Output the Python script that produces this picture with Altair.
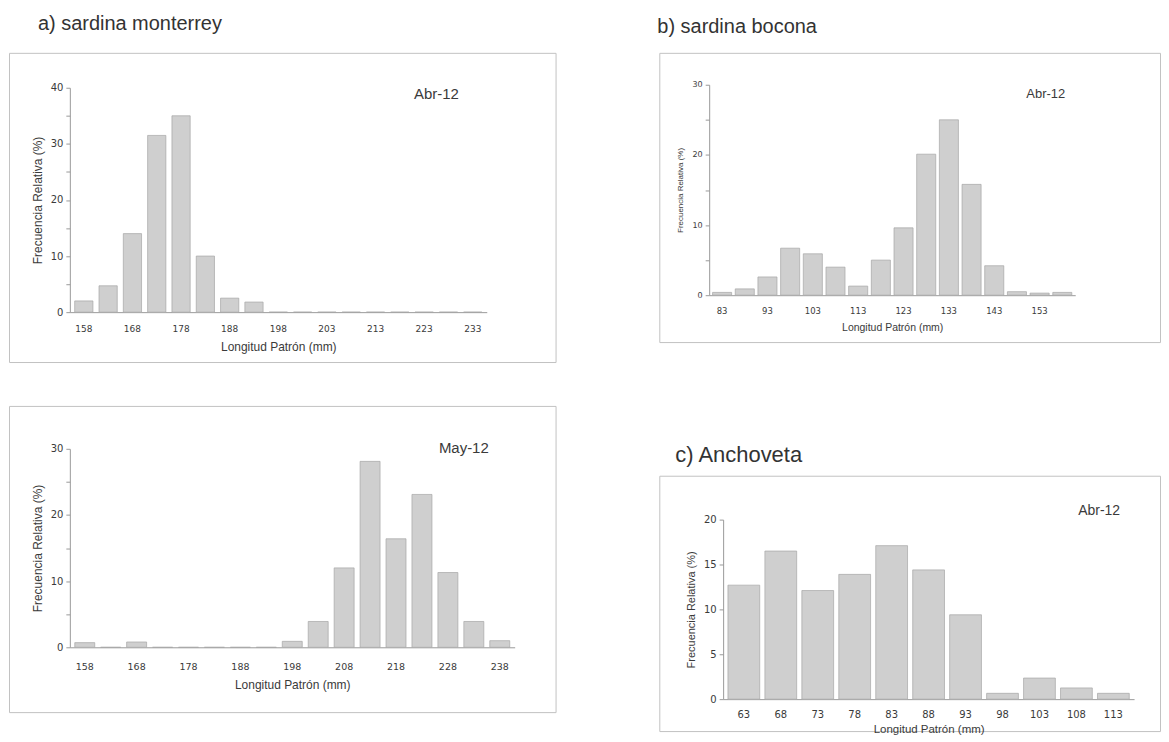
import altair as alt
import pandas as pd

# ---------------- data ----------------
a1_cats = ["158", "163", "168", "173", "178", "183", "188", "193", "198", "200",
           "203", "208", "213", "218", "223", "228", "233"]
a1_vals = [2.0, 4.7, 14.0, 31.5, 35.0, 10.0, 2.5, 1.8, 0, 0, 0, 0, 0, 0, 0, 0, 0]
a1_labels = ["158", "168", "178", "188", "198", "203", "213", "223", "233"]

a2_cats = ["158", "163", "168", "173", "178", "183", "188", "193", "198", "203",
           "208", "213", "218", "223", "228", "233", "238"]
a2_vals = [0.7, 0, 0.8, 0, 0, 0, 0, 0, 0.9, 3.9, 12.0, 28.1, 16.4, 23.1, 11.3, 3.9, 1.0]
a2_labels = ["158", "168", "178", "188", "198", "208", "218", "228", "238"]

b_cats = ["83", "88", "93", "98", "103", "108", "113", "118", "123", "128",
          "133", "138", "143", "148", "153", "158"]
b_vals = [0.4, 0.9, 2.6, 6.7, 5.9, 4.0, 1.3, 5.0, 9.6, 20.1, 25.0, 15.8, 4.2, 0.5, 0.3, 0.4]
b_labels = ["83", "93", "103", "113", "123", "133", "143", "153"]

c_cats = ["63", "68", "73", "78", "83", "88", "93", "98", "103", "108", "113"]
c_vals = [12.7, 16.5, 12.1, 13.9, 17.1, 14.4, 9.4, 0.65, 2.35, 1.25, 0.65]
c_labels = c_cats

XTITLE = "Longitud Patrón (mm)"
YTITLE = "Frecuencia Relativa (%)"
TXT = "#3a3a3a"


def panel(cats, vals, labeled, ymax, label_every, fw, fh, xr, pi, po, yr,
          xoff, yoff, tag, tag_x, tag_y, tag_size, title, title_x, title_y, title_size,
          xlab_size, xlab_pad, xtitle_size, xtitle_pad,
          ylab_size, ytitle_size, ytitle_pad):
    df = pd.DataFrame({"cat": cats, "val": vals})
    label_expr = ("datum.value % " + str(label_every) + " == 0 ? datum.label : ''")
    bars = alt.Chart(df).mark_bar(
        color="#cfcfcf", stroke="#a6a6a6", strokeWidth=0.7
    ).encode(
        x=alt.X("cat:N", sort=cats,
                scale=alt.Scale(range=xr, paddingInner=pi, paddingOuter=po),
                axis=alt.Axis(values=labeled, title=XTITLE, offset=xoff, labelAngle=0,
                              ticks=False, labelFontSize=xlab_size, labelPadding=xlab_pad,
                              titleFontSize=xtitle_size, titlePadding=xtitle_pad)),
        y=alt.Y("val:Q",
                scale=alt.Scale(domain=[0, ymax], range=yr, nice=False, zero=True),
                axis=alt.Axis(values=list(range(0, ymax + 1, 5)), labelExpr=label_expr,
                              offset=yoff, grid=False, title=YTITLE, tickSize=4,
                              labelFontSize=ylab_size, labelPadding=3,
                              titleFontSize=ytitle_size, titlePadding=ytitle_pad)),
    )
    tag_t = alt.Chart().mark_text(
        text=tag, align="left", baseline="alphabetic", font="Liberation Sans",
        fontSize=tag_size, color=TXT
    ).encode(x=alt.value(tag_x), y=alt.value(tag_y))
    layers = [bars, tag_t]
    if title:
        title_t = alt.Chart().mark_text(
            text=title, align="left", baseline="alphabetic", font="Liberation Sans",
            fontSize=title_size, color="#333333"
        ).encode(x=alt.value(title_x), y=alt.value(title_y))
        layers.append(title_t)
    return alt.layer(*layers).properties(width=fw, height=fh)


a1 = panel(a1_cats, a1_vals, a1_labels, 40, 10, 548, 310, [61, 479], 0.25, 0.2, [260, 35],
           -50, -61, "Abr-12", 406, 46, 15, "a) sardina monterrey", 29, -23, 20,
           9, 12, 12, 8, 10, 12, 6)
a2 = panel(a2_cats, a2_vals, a2_labels, 30, 10, 548, 307, [61, 507], 0.23, 0.19, [242, 43],
           -65, -61, "May-12", 431, 47, 15, None, 0, 0, 0,
           9.5, 14, 12, 9, 10, 12, 6)
b = panel(b_cats, b_vals, b_labels, 30, 10, 502, 290, [50, 417], 0.16, 0.15, [243, 32],
          -47, -50, "Abr-12", 368, 45, 13, "b) sardina bocona", -2, -20, 20,
          8.5, 11, 10.5, 8, 8, 8, 8)
c = panel(c_cats, c_vals, c_labels, 20, 5, 502, 256, [64, 476], 0.14, 0.13, [224, 44],
          -32, -64, "Abr-12", 420, 39, 14, "c) Anchoveta", 16, -14, 22,
          10, 10, 11.5, 4, 10, 11, 7)

left = alt.vconcat(a1, a2, spacing=44, bounds="flush")
right = alt.vconcat(b, c, spacing=134, bounds="flush")

chart = alt.hconcat(left, right, spacing=100, bounds="full").properties(
    padding={"top": 4, "left": 0, "right": 0, "bottom": 0}
).configure_view(
    stroke="#c2c2c2", strokeWidth=1
).configure_axis(
    domainColor="#9a9a9a", tickColor="#9a9a9a", labelColor=TXT, titleColor=TXT,
    labelFont="DejaVu Sans", titleFont="Liberation Sans", titleFontWeight="normal"
)

chart.save("out.html", embed_options={"renderer": "svg", "actions": False})
